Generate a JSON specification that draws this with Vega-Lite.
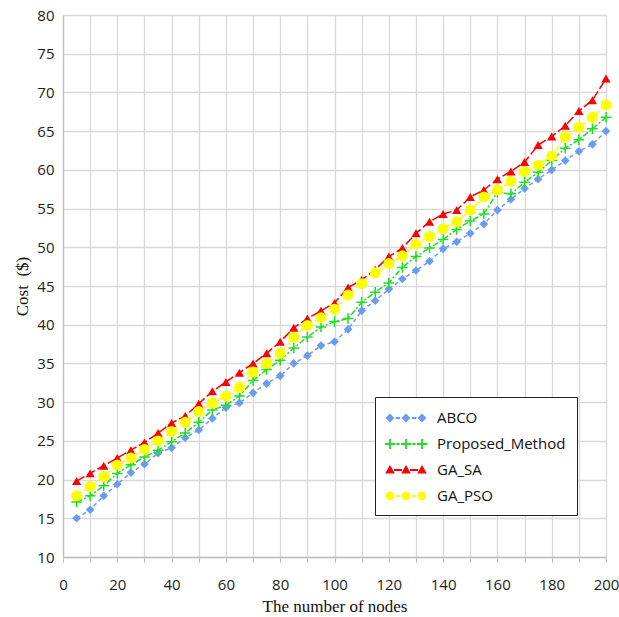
{
  "$schema": "https://vega.github.io/schema/vega-lite/v6.json",
  "width": 543,
  "height": 542,
  "autosize": {"type": "none"},
  "padding": {"left": 63, "top": 15, "right": 13, "bottom": 60},
  "background": "white",
  "config": {
    "view": {"stroke": null},
    "axis": {
      "gridColor": "#d9d9d9",
      "gridWidth": 1.3,
      "domainColor": "#bfbfbf",
      "domainWidth": 1.3,
      "tickColor": "#bfbfbf",
      "labelFont": "Open Sans",
      "labelFontSize": 15,
      "labelColor": "#222",
      "titleFont": "Liberation Serif",
      "titleFontSize": 17,
      "titleFontWeight": "normal",
      "titleColor": "#111"
    }
  },
  "data": {
    "values": [
      {"x":5,"s":"ABCO","c":15},{"x":10,"s":"ABCO","c":16.1},{"x":15,"s":"ABCO","c":17.9},{"x":20,"s":"ABCO","c":19.4},{"x":25,"s":"ABCO","c":20.9},{"x":30,"s":"ABCO","c":22},{"x":35,"s":"ABCO","c":23.4},{"x":40,"s":"ABCO","c":24.1},{"x":45,"s":"ABCO","c":25.4},{"x":50,"s":"ABCO","c":26.4},
      {"x":55,"s":"ABCO","c":27.9},{"x":60,"s":"ABCO","c":29.3},{"x":65,"s":"ABCO","c":29.9},{"x":70,"s":"ABCO","c":31.2},{"x":75,"s":"ABCO","c":32.4},{"x":80,"s":"ABCO","c":33.4},{"x":85,"s":"ABCO","c":35},{"x":90,"s":"ABCO","c":36},{"x":95,"s":"ABCO","c":37.3},{"x":100,"s":"ABCO","c":37.8},
      {"x":105,"s":"ABCO","c":39.4},{"x":110,"s":"ABCO","c":41.8},{"x":115,"s":"ABCO","c":43.1},{"x":120,"s":"ABCO","c":44.6},{"x":125,"s":"ABCO","c":45.9},{"x":130,"s":"ABCO","c":47},{"x":135,"s":"ABCO","c":48.2},{"x":140,"s":"ABCO","c":49.8},{"x":145,"s":"ABCO","c":50.7},{"x":150,"s":"ABCO","c":51.8},
      {"x":155,"s":"ABCO","c":53},{"x":160,"s":"ABCO","c":54.8},{"x":165,"s":"ABCO","c":56.2},{"x":170,"s":"ABCO","c":57.6},{"x":175,"s":"ABCO","c":58.8},{"x":180,"s":"ABCO","c":60},{"x":185,"s":"ABCO","c":61.2},{"x":190,"s":"ABCO","c":62.4},{"x":195,"s":"ABCO","c":63.3},{"x":200,"s":"ABCO","c":65},
      {"x":5,"s":"Proposed_Method","c":17.1},{"x":10,"s":"Proposed_Method","c":17.9},{"x":15,"s":"Proposed_Method","c":19.2},{"x":20,"s":"Proposed_Method","c":20.8},{"x":25,"s":"Proposed_Method","c":21.9},{"x":30,"s":"Proposed_Method","c":22.9},{"x":35,"s":"Proposed_Method","c":23.8},{"x":40,"s":"Proposed_Method","c":24.9},{"x":45,"s":"Proposed_Method","c":26},{"x":50,"s":"Proposed_Method","c":27.4},
      {"x":55,"s":"Proposed_Method","c":29},{"x":60,"s":"Proposed_Method","c":29.6},{"x":65,"s":"Proposed_Method","c":30.8},{"x":70,"s":"Proposed_Method","c":32.8},{"x":75,"s":"Proposed_Method","c":34.2},{"x":80,"s":"Proposed_Method","c":35.4},{"x":85,"s":"Proposed_Method","c":37},{"x":90,"s":"Proposed_Method","c":38.4},{"x":95,"s":"Proposed_Method","c":39.7},{"x":100,"s":"Proposed_Method","c":40.4},
      {"x":105,"s":"Proposed_Method","c":40.8},{"x":110,"s":"Proposed_Method","c":42.9},{"x":115,"s":"Proposed_Method","c":44.2},{"x":120,"s":"Proposed_Method","c":45.4},{"x":125,"s":"Proposed_Method","c":47.4},{"x":130,"s":"Proposed_Method","c":48.8},{"x":135,"s":"Proposed_Method","c":49.9},{"x":140,"s":"Proposed_Method","c":51},{"x":145,"s":"Proposed_Method","c":52.3},{"x":150,"s":"Proposed_Method","c":53.4},
      {"x":155,"s":"Proposed_Method","c":54.3},{"x":160,"s":"Proposed_Method","c":57.1},{"x":165,"s":"Proposed_Method","c":56.9},{"x":170,"s":"Proposed_Method","c":58.4},{"x":175,"s":"Proposed_Method","c":59.7},{"x":180,"s":"Proposed_Method","c":61.2},{"x":185,"s":"Proposed_Method","c":62.8},{"x":190,"s":"Proposed_Method","c":63.9},{"x":195,"s":"Proposed_Method","c":65.3},{"x":200,"s":"Proposed_Method","c":66.8},
      {"x":5,"s":"GA_SA","c":19.8},{"x":10,"s":"GA_SA","c":20.8},{"x":15,"s":"GA_SA","c":21.8},{"x":20,"s":"GA_SA","c":22.8},{"x":25,"s":"GA_SA","c":23.8},{"x":30,"s":"GA_SA","c":24.8},{"x":35,"s":"GA_SA","c":26},{"x":40,"s":"GA_SA","c":27.3},{"x":45,"s":"GA_SA","c":28.2},{"x":50,"s":"GA_SA","c":29.8},
      {"x":55,"s":"GA_SA","c":31.4},{"x":60,"s":"GA_SA","c":32.6},{"x":65,"s":"GA_SA","c":33.8},{"x":70,"s":"GA_SA","c":35},{"x":75,"s":"GA_SA","c":36.3},{"x":80,"s":"GA_SA","c":37.8},{"x":85,"s":"GA_SA","c":39.6},{"x":90,"s":"GA_SA","c":40.8},{"x":95,"s":"GA_SA","c":41.8},{"x":100,"s":"GA_SA","c":42.8},
      {"x":105,"s":"GA_SA","c":44.8},{"x":110,"s":"GA_SA","c":45.8},{"x":115,"s":"GA_SA","c":47.1},{"x":120,"s":"GA_SA","c":48.8},{"x":125,"s":"GA_SA","c":49.9},{"x":130,"s":"GA_SA","c":51.8},{"x":135,"s":"GA_SA","c":53.3},{"x":140,"s":"GA_SA","c":54.3},{"x":145,"s":"GA_SA","c":54.8},{"x":150,"s":"GA_SA","c":56.5},
      {"x":155,"s":"GA_SA","c":57.4},{"x":160,"s":"GA_SA","c":58.8},{"x":165,"s":"GA_SA","c":59.8},{"x":170,"s":"GA_SA","c":61},{"x":175,"s":"GA_SA","c":63.2},{"x":180,"s":"GA_SA","c":64.3},{"x":185,"s":"GA_SA","c":65.7},{"x":190,"s":"GA_SA","c":67.6},{"x":195,"s":"GA_SA","c":69},{"x":200,"s":"GA_SA","c":71.8},
      {"x":5,"s":"GA_PSO","c":17.9},{"x":10,"s":"GA_PSO","c":19.1},{"x":15,"s":"GA_PSO","c":20.4},{"x":20,"s":"GA_PSO","c":21.9},{"x":25,"s":"GA_PSO","c":22.8},{"x":30,"s":"GA_PSO","c":23.9},{"x":35,"s":"GA_PSO","c":25},{"x":40,"s":"GA_PSO","c":26.2},{"x":45,"s":"GA_PSO","c":27.4},{"x":50,"s":"GA_PSO","c":28.8},
      {"x":55,"s":"GA_PSO","c":29.9},{"x":60,"s":"GA_PSO","c":30.8},{"x":65,"s":"GA_PSO","c":31.9},{"x":70,"s":"GA_PSO","c":33.9},{"x":75,"s":"GA_PSO","c":35},{"x":80,"s":"GA_PSO","c":36.3},{"x":85,"s":"GA_PSO","c":38.4},{"x":90,"s":"GA_PSO","c":39.9},{"x":95,"s":"GA_PSO","c":40.9},{"x":100,"s":"GA_PSO","c":42},
      {"x":105,"s":"GA_PSO","c":43.85},{"x":110,"s":"GA_PSO","c":45.3},{"x":115,"s":"GA_PSO","c":46.7},{"x":120,"s":"GA_PSO","c":47.9},{"x":125,"s":"GA_PSO","c":48.9},{"x":130,"s":"GA_PSO","c":50.4},{"x":135,"s":"GA_PSO","c":51.4},{"x":140,"s":"GA_PSO","c":52.4},{"x":145,"s":"GA_PSO","c":53.3},{"x":150,"s":"GA_PSO","c":54.8},
      {"x":155,"s":"GA_PSO","c":56.5},{"x":160,"s":"GA_PSO","c":57.4},{"x":165,"s":"GA_PSO","c":58.5},{"x":170,"s":"GA_PSO","c":59.8},{"x":175,"s":"GA_PSO","c":60.6},{"x":180,"s":"GA_PSO","c":61.8},{"x":185,"s":"GA_PSO","c":64.3},{"x":190,"s":"GA_PSO","c":65.5},{"x":195,"s":"GA_PSO","c":66.8},{"x":200,"s":"GA_PSO","c":68.4}
    ]
  },
  "encoding": {
    "x": {
      "field": "x", "type": "quantitative",
      "scale": {"domain": [0, 200], "nice": false},
      "axis": {
        "title": "The number of nodes",
        "values": [0,10,20,30,40,50,60,70,80,90,100,110,120,130,140,150,160,170,180,190,200],
        "labelExpr": "datum.value % 20 === 0 ? datum.label : ''",
        "labelOverlap": false,
        "labelFlush": false,
        "tickSize": 5,
        "labelPadding": 15,
        "titlePadding": 6
      }
    },
    "y": {
      "field": "c", "type": "quantitative",
      "scale": {"domain": [10, 80], "nice": false},
      "axis": {
        "title": "Cost \u00a0($)",
        "values": [10,15,20,25,30,35,40,45,50,55,60,65,70,75,80],
        "ticks": false,
        "labelPadding": 9,
        "titlePadding": 5
      }
    },
    "color": {
      "field": "s", "type": "nominal",
      "scale": {
        "domain": ["ABCO", "Proposed_Method", "GA_SA", "GA_PSO"],
        "range": ["#6a9bf4", "#1ee01e", "#ff0000", "#ffff00"]
      }
    }
  },
  "layer": [
    {
      "mark": {"type": "line", "strokeWidth": 1.5},
      "encoding": {
        "color": {
          "field": "s", "type": "nominal",
          "legend": {
            "title": null,
            "orient": "none",
            "legendX": 312,
            "legendY": 382,
            "padding": 11,
            "strokeColor": "#222",
            "fillColor": "white",
            "symbolSize": 400,
            "symbolOffset": 10,
            "labelFont": "Open Sans",
            "labelFontSize": 15,
            "labelColor": "#111",
            "labelOffset": 21,
            "rowPadding": 8,
            "encode": {
              "symbols": {
                "update": {
                  "shape": {"signal": "datum.value === 'ABCO' ? 'M-1.6,-0.44L-1.16,0L-1.6,0.44L-2.04,0Z M0,-0.44L0.44,0L0,0.44L-0.44,0Z M1.6,-0.44L2.04,0L1.6,0.44L1.16,0Z M-1.04,-0.09H-0.6V0.09H-1.04Z M0.6,-0.09H1.04V0.09H0.6Z' : datum.value === 'Proposed_Method' ? 'M-2.1,-0.09H-1.1V0.09H-2.1Z M-1.69,-0.5H-1.51V0.5H-1.69Z M-0.5,-0.09H0.5V0.09H-0.5Z M-0.09,-0.5H0.09V0.5H-0.09Z M1.1,-0.09H2.1V0.09H1.1Z M1.51,-0.5H1.69V0.5H1.51Z M-0.96,-0.09H-0.64V0.09H-0.96Z M0.64,-0.09H0.96V0.09H0.64Z' : datum.value === 'GA_SA' ? 'M-1.6,-0.5L-1.12,0.36L-2.08,0.36Z M0,-0.5L0.48,0.36L-0.48,0.36Z M1.6,-0.5L2.08,0.36L1.12,0.36Z M-1.2,-0.09H-0.4V0.09H-1.2Z M0.4,-0.09H1.2V0.09H0.4Z' : 'M-2.04,0A0.44,0.44,0,1,0,-1.16,0A0.44,0.44,0,1,0,-2.04,0Z M-0.44,0A0.44,0.44,0,1,0,0.44,0A0.44,0.44,0,1,0,-0.44,0Z M1.16,0A0.44,0.44,0,1,0,2.04,0A0.44,0.44,0,1,0,1.16,0Z M-1,-0.09H-0.6V0.09H-1Z M0.6,-0.09H1V0.09H0.6Z'"},
                  "fill": {"signal": "scale('color', datum.value)"},
                  "stroke": {"value": "transparent"},
                  "strokeWidth": {"value": 0},
                  "opacity": {"value": 1}
                }
              }
            }
          }
        },
        "strokeDash": {
          "field": "s", "type": "nominal", "legend": null,
          "scale": {
            "domain": ["ABCO", "Proposed_Method", "GA_SA", "GA_PSO"],
            "range": [[4, 3], [6, 2, 2, 2], [9, 3], [6, 3]]
          }
        }
      }
    },
    {
      "transform": [{"filter": "datum.s === 'ABCO'"}],
      "mark": {"type": "point", "shape": "diamond", "filled": true, "size": 75, "opacity": 1},
      "encoding": {"color": {"field": "s", "type": "nominal", "legend": null}}
    },
    {
      "transform": [{"filter": "datum.s === 'Proposed_Method'"}],
      "mark": {"type": "point", "shape": "M-1,0H1M0,-1V1", "filled": false, "size": 110, "strokeWidth": 1.5, "opacity": 1},
      "encoding": {"color": {"field": "s", "type": "nominal", "legend": null}}
    },
    {
      "transform": [{"filter": "datum.s === 'GA_SA'"}],
      "mark": {"type": "point", "shape": "triangle-up", "filled": true, "size": 85, "opacity": 1},
      "encoding": {"color": {"field": "s", "type": "nominal", "legend": null}}
    },
    {
      "transform": [{"filter": "datum.s === 'GA_PSO'"}],
      "mark": {"type": "point", "shape": "circle", "filled": true, "size": 120, "opacity": 1},
      "encoding": {"color": {"field": "s", "type": "nominal", "legend": null}}
    }
  ]
}
